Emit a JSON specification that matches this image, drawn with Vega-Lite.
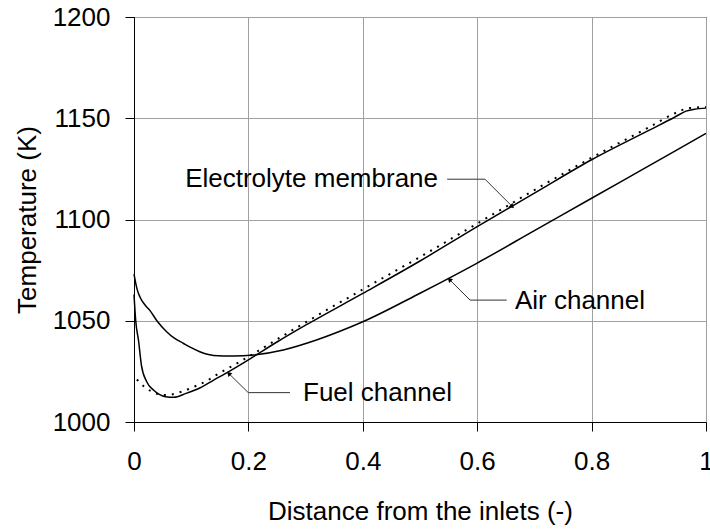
{
  "$schema": "https://vega.github.io/schema/vega-lite/v6.json",
  "width": 572,
  "height": 405,
  "autosize": {"type": "none"},
  "padding": {"left": 134, "top": 17, "right": 4, "bottom": 107},
  "config": {
    "font": "Liberation Sans",
    "view": {"stroke": "#000000", "strokeWidth": 1},
    "axis": {
      "labelFont": "Liberation Sans",
      "titleFont": "Liberation Sans",
      "labelFontSize": 26,
      "titleFontSize": 26,
      "titleFontWeight": "normal",
      "labelColor": "#000000",
      "titleColor": "#000000",
      "domainColor": "#000000",
      "ticks": true,
      "tickColor": "#000000",
      "tickWidth": 1,
      "tickSize": 9,
      "labelFlush": false,
      "gridColor": "#a0a0a0",
      "gridWidth": 1,
      "gridOpacity": 1
    }
  },
  "datasets": {
    "curves": [
      {"series": "Air channel", "x": 0, "T": 1073},
      {"series": "Air channel", "x": 0.005, "T": 1066},
      {"series": "Air channel", "x": 0.01, "T": 1062},
      {"series": "Air channel", "x": 0.02, "T": 1057.5},
      {"series": "Air channel", "x": 0.028, "T": 1055},
      {"series": "Air channel", "x": 0.04, "T": 1050},
      {"series": "Air channel", "x": 0.057, "T": 1044.6},
      {"series": "Air channel", "x": 0.07, "T": 1041.5},
      {"series": "Air channel", "x": 0.086, "T": 1038.9},
      {"series": "Air channel", "x": 0.1, "T": 1036.7},
      {"series": "Air channel", "x": 0.115, "T": 1034.7},
      {"series": "Air channel", "x": 0.13, "T": 1033.3},
      {"series": "Air channel", "x": 0.139, "T": 1032.9},
      {"series": "Air channel", "x": 0.174, "T": 1032.6},
      {"series": "Air channel", "x": 0.209, "T": 1033.1},
      {"series": "Air channel", "x": 0.261, "T": 1035.6},
      {"series": "Air channel", "x": 0.319, "T": 1040.5},
      {"series": "Air channel", "x": 0.36, "T": 1044.8},
      {"series": "Air channel", "x": 0.4, "T": 1049.5},
      {"series": "Air channel", "x": 0.5, "T": 1063.6},
      {"series": "Air channel", "x": 0.6, "T": 1078.5},
      {"series": "Air channel", "x": 0.7, "T": 1094.5},
      {"series": "Air channel", "x": 0.8, "T": 1110.5},
      {"series": "Air channel", "x": 0.9, "T": 1126.5},
      {"series": "Air channel", "x": 1, "T": 1142.5},

      {"series": "Fuel channel", "x": 0, "T": 1063},
      {"series": "Fuel channel", "x": 0.003, "T": 1050},
      {"series": "Fuel channel", "x": 0.008, "T": 1040},
      {"series": "Fuel channel", "x": 0.013, "T": 1028},
      {"series": "Fuel channel", "x": 0.022, "T": 1020},
      {"series": "Fuel channel", "x": 0.034, "T": 1015.8},
      {"series": "Fuel channel", "x": 0.045, "T": 1013.5},
      {"series": "Fuel channel", "x": 0.055, "T": 1012.5},
      {"series": "Fuel channel", "x": 0.07, "T": 1012.2},
      {"series": "Fuel channel", "x": 0.09, "T": 1014},
      {"series": "Fuel channel", "x": 0.115, "T": 1016.8},
      {"series": "Fuel channel", "x": 0.14, "T": 1020.8},
      {"series": "Fuel channel", "x": 0.165, "T": 1024.8},
      {"series": "Fuel channel", "x": 0.19, "T": 1029},
      {"series": "Fuel channel", "x": 0.209, "T": 1032.3},
      {"series": "Fuel channel", "x": 0.25, "T": 1039.5},
      {"series": "Fuel channel", "x": 0.3, "T": 1047.8},
      {"series": "Fuel channel", "x": 0.4, "T": 1063.5},
      {"series": "Fuel channel", "x": 0.5, "T": 1079.5},
      {"series": "Fuel channel", "x": 0.6, "T": 1096.5},
      {"series": "Fuel channel", "x": 0.7, "T": 1113},
      {"series": "Fuel channel", "x": 0.8, "T": 1129.5},
      {"series": "Fuel channel", "x": 0.9, "T": 1144},
      {"series": "Fuel channel", "x": 0.945, "T": 1150.5},
      {"series": "Fuel channel", "x": 0.965, "T": 1153.5},
      {"series": "Fuel channel", "x": 0.98, "T": 1154.5},
      {"series": "Fuel channel", "x": 1, "T": 1155},

      {"series": "Electrolyte membrane", "x": 0.005, "T": 1021},
      {"series": "Electrolyte membrane", "x": 0.02, "T": 1017},
      {"series": "Electrolyte membrane", "x": 0.035, "T": 1014.5},
      {"series": "Electrolyte membrane", "x": 0.051, "T": 1013.3},
      {"series": "Electrolyte membrane", "x": 0.066, "T": 1013.6},
      {"series": "Electrolyte membrane", "x": 0.08, "T": 1014.7},
      {"series": "Electrolyte membrane", "x": 0.099, "T": 1016.6},
      {"series": "Electrolyte membrane", "x": 0.112, "T": 1018.3},
      {"series": "Electrolyte membrane", "x": 0.127, "T": 1020.2},
      {"series": "Electrolyte membrane", "x": 0.142, "T": 1022.9},
      {"series": "Electrolyte membrane", "x": 0.159, "T": 1025.7},
      {"series": "Electrolyte membrane", "x": 0.174, "T": 1028},
      {"series": "Electrolyte membrane", "x": 0.2, "T": 1032.2},
      {"series": "Electrolyte membrane", "x": 0.25, "T": 1040.8},
      {"series": "Electrolyte membrane", "x": 0.3, "T": 1049.2},
      {"series": "Electrolyte membrane", "x": 0.4, "T": 1065.5},
      {"series": "Electrolyte membrane", "x": 0.5, "T": 1081.5},
      {"series": "Electrolyte membrane", "x": 0.6, "T": 1098},
      {"series": "Electrolyte membrane", "x": 0.7, "T": 1114.5},
      {"series": "Electrolyte membrane", "x": 0.8, "T": 1130.5},
      {"series": "Electrolyte membrane", "x": 0.9, "T": 1145.5},
      {"series": "Electrolyte membrane", "x": 0.95, "T": 1153},
      {"series": "Electrolyte membrane", "x": 0.97, "T": 1155},
      {"series": "Electrolyte membrane", "x": 1, "T": 1155.5}
    ],
    "leaders": [
      {"label": "Electrolyte membrane", "seg": 1, "x": 0.5475, "T": 1119.9, "x2": 0.6136, "T2": 1119.9},
      {"label": "Electrolyte membrane", "seg": 2, "x": 0.6136, "T": 1119.9, "x2": 0.6603, "T2": 1106.7},
      {"label": "Air channel", "seg": 1, "x": 0.6516, "T": 1060.2, "x2": 0.5876, "T2": 1060.2},
      {"label": "Air channel", "seg": 2, "x": 0.5876, "T": 1060.2, "x2": 0.5524, "T2": 1070.1},
      {"label": "Fuel channel", "seg": 1, "x": 0.2727, "T": 1014.5, "x2": 0.1998, "T2": 1014.5},
      {"label": "Fuel channel", "seg": 2, "x": 0.1998, "T": 1014.5, "x2": 0.1666, "T2": 1023.7}
    ],
    "labels": [
      {"label": "Electrolyte membrane", "x": 0.5315, "T": 1120},
      {"label": "Air channel", "x": 0.666, "T": 1060},
      {"label": "Fuel channel", "x": 0.2955, "T": 1014.5}
    ]
  },
  "layer": [
    {
      "data": {"name": "curves"},
      "transform": [{"filter": "datum.series !== 'Electrolyte membrane'"}],
      "mark": {"type": "line", "color": "#000000", "strokeWidth": 1.5, "interpolate": "monotone"},
      "encoding": {
        "x": {
          "field": "x", "type": "quantitative",
          "scale": {"domain": [0, 1], "nice": false},
          "axis": {"values": [0, 0.2, 0.4, 0.6, 0.8, 1], "format": "~g", "labelPadding": 17, "labelFlush": false, "title": "Distance from the inlets (-)", "titlePadding": 24}
        },
        "y": {
          "field": "T", "type": "quantitative",
          "scale": {"domain": [1000, 1200], "nice": false, "zero": false},
          "axis": {"values": [1000, 1050, 1100, 1150, 1200], "format": "d", "labelPadding": 15, "title": "Temperature (K)", "titlePadding": 12}
        },
        "detail": {"field": "series"}
      }
    },
    {
      "data": {"name": "curves"},
      "transform": [{"filter": "datum.series === 'Electrolyte membrane'"}],
      "mark": {"type": "line", "color": "#000000", "strokeWidth": 2, "strokeDash": [2, 6], "interpolate": "monotone"},
      "encoding": {
        "x": {"field": "x", "type": "quantitative"},
        "y": {"field": "T", "type": "quantitative"}
      }
    },
    {
      "data": {"name": "leaders"},
      "mark": {"type": "rule", "color": "#333333", "strokeWidth": 1},
      "encoding": {
        "x": {"field": "x", "type": "quantitative"},
        "y": {"field": "T", "type": "quantitative"},
        "x2": {"field": "x2"},
        "y2": {"field": "T2"}
      }
    },
    {
      "data": {"name": "leaders"},
      "transform": [{"filter": "datum.seg === 2 && datum.label === 'Electrolyte membrane'"}],
      "mark": {"type": "point", "shape": "triangle", "filled": true, "color": "#000000", "size": 30, "angle": 135, "opacity": 1},
      "encoding": {
        "x": {"field": "x2", "type": "quantitative"},
        "y": {"field": "T2", "type": "quantitative"}
      }
    },
    {
      "data": {"name": "leaders"},
      "transform": [{"filter": "datum.seg === 2 && datum.label !== 'Electrolyte membrane'"}],
      "mark": {"type": "point", "shape": "triangle", "filled": true, "color": "#000000", "size": 30, "angle": 315, "opacity": 1},
      "encoding": {
        "x": {"field": "x2", "type": "quantitative"},
        "y": {"field": "T2", "type": "quantitative"}
      }
    },
    {
      "data": {"name": "labels"},
      "transform": [{"filter": "datum.label === 'Electrolyte membrane'"}],
      "mark": {"type": "text", "align": "right", "baseline": "middle", "fontSize": 26, "font": "Liberation Sans", "color": "#000000"},
      "encoding": {
        "x": {"field": "x", "type": "quantitative"},
        "y": {"field": "T", "type": "quantitative"},
        "text": {"field": "label"}
      }
    },
    {
      "data": {"name": "labels"},
      "transform": [{"filter": "datum.label !== 'Electrolyte membrane'"}],
      "mark": {"type": "text", "align": "left", "baseline": "middle", "fontSize": 26, "font": "Liberation Sans", "color": "#000000"},
      "encoding": {
        "x": {"field": "x", "type": "quantitative"},
        "y": {"field": "T", "type": "quantitative"},
        "text": {"field": "label"}
      }
    }
  ]
}
